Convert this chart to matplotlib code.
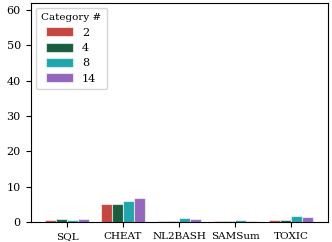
import matplotlib
matplotlib.use("Agg")
import matplotlib.pyplot as plt
import numpy as np

plt.rcParams['font.family'] = ['DejaVu Serif']

datasets = ["SQL", "CHEAT", "NL2BASH", "SAMSum", "TOXIC"]
categories = ["2", "4", "8", "14"]
values = {
    "2": [0.6, 5.1, 0.4, 0.3, 0.6],
    "4": [0.7, 5.0, 0.3, 0.3, 0.5],
    "8": [0.6, 6.0, 1.1, 0.5, 1.8],
    "14": [0.8, 6.7, 0.9, 0.3, 1.4],
}
colors = ["#c44841", "#1b5e3f", "#22a6ae", "#9467bd"]

fig = plt.figure(figsize=(3.32, 2.42), dpi=100)
ax = fig.add_axes([0.092, 0.083, 0.896, 0.905])
x = np.arange(len(datasets))
w = 0.2
for i, c in enumerate(categories):
    ax.bar(x + (i - 1.5) * w, values[c], width=w, color=colors[i],
           edgecolor=(1, 1, 1, 0.6), linewidth=0.8, label=c)
ax.set_xticks(x)
ax.set_xticklabels(datasets, fontsize=7.5)
ax.set_yticks([0, 10, 20, 30, 40, 50, 60])
ax.tick_params(axis='y', labelsize=8)
ax.set_xlim(-0.65, 4.66)
ax.set_ylim(0, 62)
leg = ax.legend(title="Category #", loc="upper left", fontsize=8, title_fontsize=7.5,
                handlelength=2.4, handleheight=0.85, borderpad=0.5, labelspacing=0.45,
                borderaxespad=0.45)
fig.savefig("out.png", dpi=100)
